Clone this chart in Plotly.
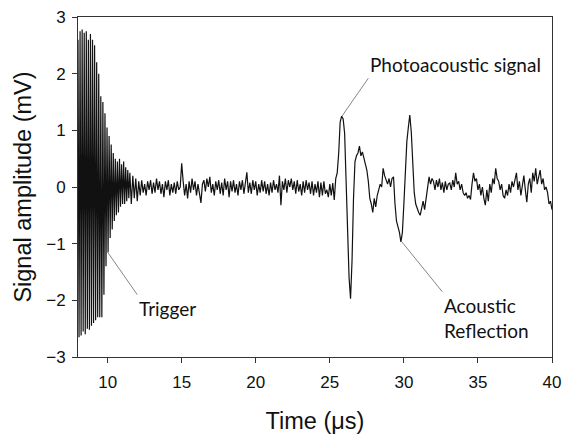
import numpy as np
import plotly.graph_objects as go

# ---- data (mV) ----
trigger_start, trigger_step = 8.0, 0.07
trigger_mv = [2.60, -2.65, 2.75, -2.62, 2.78, -2.55, 2.72, -2.60, 2.75, -2.50,
              2.60, -2.52, 2.70, -2.45, 2.60, -2.40, 2.50, -2.35, 2.20, -2.30,
              2.00, -2.30, 1.60, -2.30, 1.50, -1.90, 1.30, -1.40, 1.05, -1.15,
              0.90, -0.90, 0.75, -0.75, 0.60, -0.60, 0.50, -0.50, 0.45, -0.45,
              0.50, -0.35, 0.40, -0.30, 0.45, -0.30, 0.35, -0.25, 0.30, -0.20]

baseline_start, baseline_step = 11.5, 0.1
baseline_mv = [0.25, -0.30, 0.20, -0.20, 0.15, -0.25, 0.10, -0.15, 0.12, -0.10,
               0.05, -0.15, 0.10, -0.05, 0.12, -0.12, 0.08, -0.10, 0.15, -0.05,
               0.10, -0.12, 0.05, -0.18, 0.10, -0.05, 0.12, -0.15, 0.05, -0.10,
               0.08, -0.12, 0.10, -0.05, 0.00, 0.42, 0.10, -0.15, 0.05, -0.20,
               0.10, -0.10, 0.15, -0.05, 0.10, -0.15, 0.05, -0.12, -0.28, 0.05,
               0.12, -0.08, 0.15, 0.00, 0.18, -0.10, 0.05, -0.15, 0.10, -0.05,
               0.12, -0.12, 0.08, -0.15, 0.15, -0.05, 0.10, -0.18, 0.10, -0.08,
               0.12, -0.10, 0.05, -0.15, 0.10, -0.05, 0.12, -0.12, 0.05, 0.26,
               -0.10, 0.08, -0.12, 0.12, -0.05, 0.10, -0.15, 0.05, -0.10, 0.12,
               -0.08, 0.10, -0.12, 0.05, -0.15, 0.08, -0.10, 0.12, -0.05, 0.05,
               -0.10, 0.20, -0.32, 0.10, -0.05, 0.15, -0.10, 0.12, 0.00, 0.15,
               -0.05, 0.10, -0.12, 0.12, -0.08, 0.05, -0.15, 0.10, -0.10, 0.12,
               -0.05, 0.08, -0.12, 0.10, -0.15, 0.05, -0.10, 0.10, -0.18, 0.08,
               -0.15, 0.10, -0.12, -0.05, -0.18, 0.05, -0.15, 0.07, -0.23]

pulse_start, pulse_step = 25.4, 0.1
pulse_mv = [0.15, 0.25, 0.60, 1.15, 1.25, 1.20, 0.95, 0.10, -1.00, -1.60,
            -1.97, -1.30, -0.20, 0.45, 0.55, 0.60, 0.72, 0.55, 0.62, 0.50,
            0.42, 0.30, 0.10, -0.20, -0.30, -0.45, -0.20, -0.35, -0.15, -0.05,
            0.05, 0.00, 0.33, 0.20, 0.10, 0.05, 0.15, 0.00, 0.15, 0.18,
            -0.30, -0.60, -0.70, -0.80, -0.97, -0.80, -0.30, 0.30, 0.80, 1.05,
            1.27, 0.97, 0.50, -0.10, -0.30, -0.40, -0.45, -0.50, -0.35, -0.25,
            -0.40, -0.20, 0.00, 0.18, 0.05, 0.15, 0.10, -0.05, 0.12, 0.00,
            0.15, -0.05, 0.08, -0.10, 0.10, -0.05, 0.05]

tail_start, tail_step = 33.1, 0.1
tail_mv = [0.07, -0.05, 0.12, 0.00, 0.25, 0.05, 0.10, -0.05, 0.05, -0.10,
           -0.15, -0.10, -0.20, -0.15, -0.22, 0.05, 0.25, 0.10, 0.15, -0.05,
           0.05, -0.15, 0.00, -0.20, -0.32, -0.05, -0.25, 0.05, -0.10, 0.15,
           0.05, 0.33, 0.15, 0.10, -0.05, 0.05, -0.15, -0.20, -0.05, -0.15,
           0.05, -0.10, 0.10, 0.00, 0.12, 0.25, -0.05, 0.10, -0.15, 0.05,
           0.20, -0.05, -0.27, 0.05, 0.15, -0.10, 0.25, 0.10, 0.33, 0.05,
           0.15, 0.30, 0.05, 0.15, -0.05, 0.00, -0.10, -0.30, -0.25, -0.40]

x_ticks = [10, 15, 20, 25, 30, 35, 40]
y_ticks = [-3, -2, -1, 0, 1, 2, 3]

segments = [(trigger_start, trigger_step, trigger_mv),
            (baseline_start, baseline_step, baseline_mv),
            (pulse_start, pulse_step, pulse_mv),
            (tail_start, tail_step, tail_mv)]
t_all, v_all = [], []
for start, step, vals in segments:
    t_all.extend(start + step * np.arange(len(vals)))
    v_all.extend(vals)

fig = go.Figure(go.Scatter(x=t_all, y=v_all, mode="lines",
                           line=dict(color="#111111", width=1.2),
                           hoverinfo="skip"))

ann_font = dict(family="Lato, 'Open Sans', sans-serif", size=19, color="#111111")
common = dict(showarrow=True, arrowhead=0, arrowwidth=0.8, arrowcolor="#666666",
              axref="x", ayref="y", font=ann_font, align="left")
fig.add_annotation(x=10.0, y=-1.15, ax=12.0, ay=-1.9, text="Trigger",
                   xanchor="left", yanchor="top", **common)
fig.add_annotation(x=25.82, y=1.25, ax=27.6, ay=1.92, text="Photoacoustic signal",
                   xanchor="left", yanchor="bottom", **common)
fig.add_annotation(x=29.87, y=-0.97, ax=32.6, ay=-1.85, text="Acoustic<br>Reflection",
                   xanchor="left", yanchor="top", **common)

axis_font = dict(family="'Liberation Sans', Arial, sans-serif", size=17, color="#111111")
title_font = dict(family="'Liberation Sans', Arial, sans-serif", size=23.5, color="#111111")
fig.update_xaxes(range=[8, 40], tickvals=x_ticks, ticks="outside", ticklen=5,
                 tickcolor="#333333", showline=True, linecolor="#333333", linewidth=1,
                 mirror=True, showgrid=False, zeroline=False, tickfont=axis_font,
                 ticklabelstandoff=5, automargin=False,
                 title=dict(text="Time (μs)", font=title_font, standoff=22))
fig.update_yaxes(range=[-3, 3], tickvals=y_ticks, ticks="outside", ticklen=5,
                 tickcolor="#333333", showline=True, linecolor="#333333", linewidth=1,
                 mirror=True, showgrid=False, zeroline=False, tickfont=axis_font,
                 ticklabelstandoff=3, automargin=False,
                 title=dict(text="Signal amplitude (mV)", font=title_font, standoff=7))
fig.update_layout(width=563, height=434, margin=dict(l=78, r=11, t=17, b=77),
                  plot_bgcolor="white", paper_bgcolor="white", showlegend=False)
fig.write_html("out.html")
